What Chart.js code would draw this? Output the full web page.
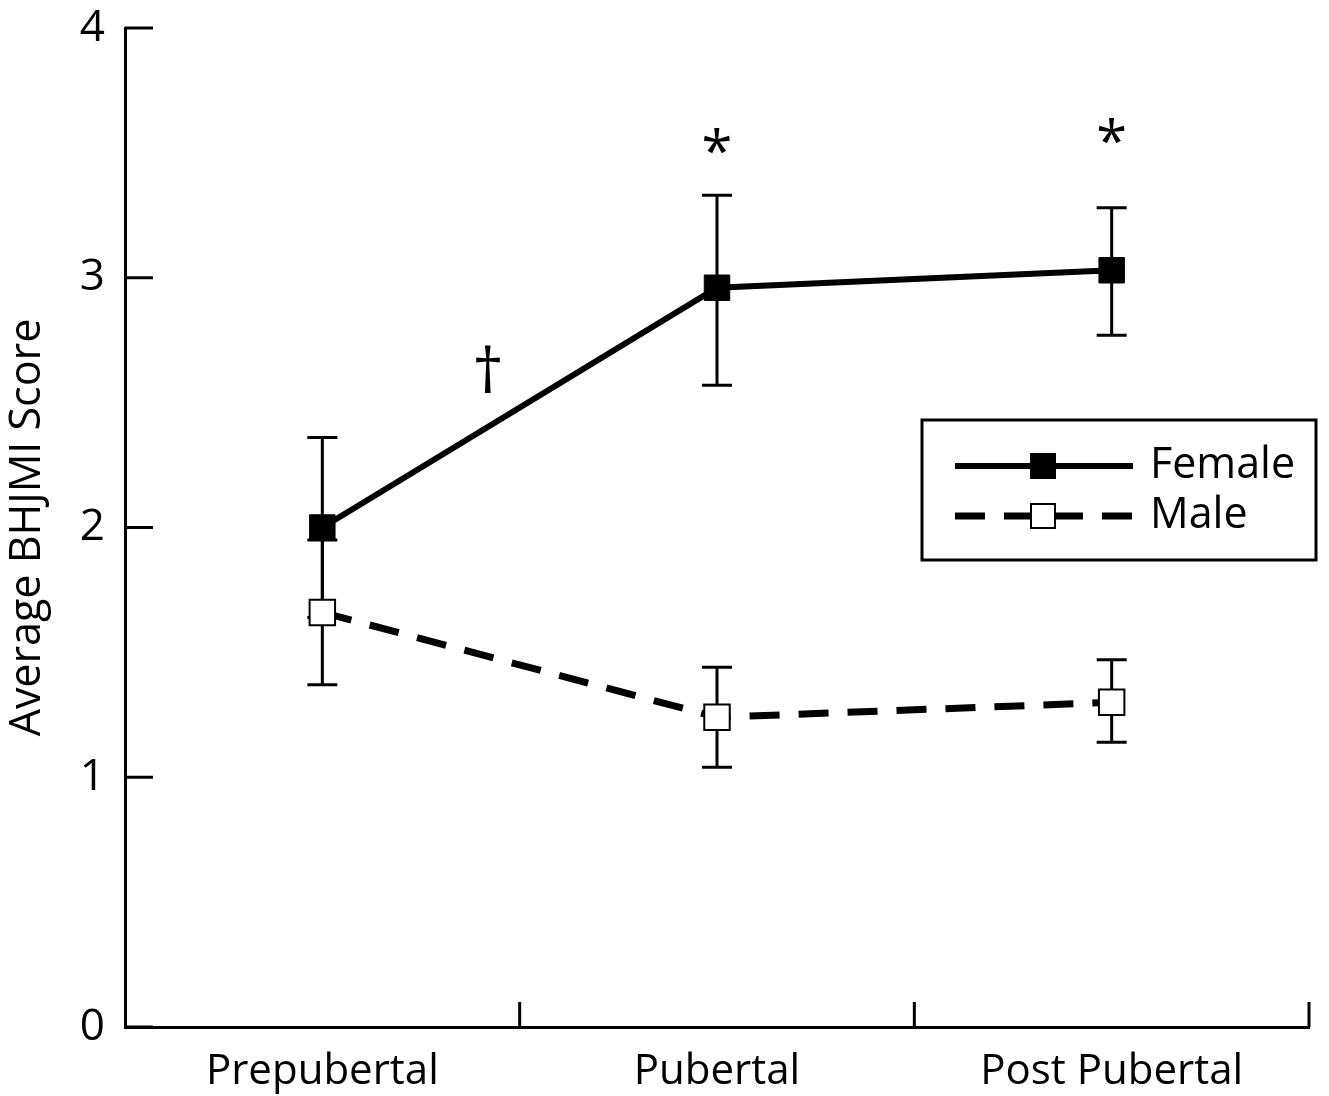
<!DOCTYPE html>
<html>
<head>
<meta charset="utf-8">
<script src="https://cdn.jsdelivr.net/npm/chart.js@4/dist/chart.umd.min.js"></script>
<style>
  html, body { margin: 0; padding: 0; background: #fff; }
  #wrap { width: 1329px; height: 1096px; }
</style>
</head>
<body>
<div id="wrap"><canvas id="chart" width="1329" height="1096"></canvas></div>
<script>
// data
const stages = ['Prepubertal', 'Pubertal', 'Post Pubertal'];
const femaleMean = [2.00, 2.96, 3.03];
const femaleLow = [1.64, 2.57, 2.77];
const femaleHigh = [2.36, 3.33, 3.28];
const maleMean = [1.66, 1.24, 1.30];
const maleLow = [1.37, 1.04, 1.14];
const maleHigh = [1.95, 1.44, 1.47];
const yTicks = [0, 1, 2, 3, 4];
// significance marks: [x position in category index, y value, symbol]
const marks = [[0.42, 2.61, '\u2020'], [1, 3.53, '*'], [2, 3.57, '*']];

const FONT = '"Open Sans", "DejaVu Sans", sans-serif';

// error bars, inward ticks, significance marks and legend box
const extras = {
    id: 'extras',
    beforeDatasetsDraw(chart) {
        const ctx = chart.ctx;
        const x = chart.scales.x, y = chart.scales.y;
        ctx.save();
        ctx.strokeStyle = '#000';
        ctx.lineWidth = 3;
        const bars = [[femaleLow, femaleHigh], [maleLow, maleHigh]];
        bars.forEach(([lo, hi]) => {
            lo.forEach((v, i) => {
                const px = x.getPixelForValue(i);
                const y1 = y.getPixelForValue(v), y2 = y.getPixelForValue(hi[i]);
                ctx.beginPath();
                ctx.moveTo(px, y1); ctx.lineTo(px, y2);
                ctx.moveTo(px - 15, y1); ctx.lineTo(px + 15, y1);
                ctx.moveTo(px - 15, y2); ctx.lineTo(px + 15, y2);
                ctx.stroke();
            });
        });
        ctx.restore();
    },
    afterDraw(chart) {
        const ctx = chart.ctx;
        const x = chart.scales.x, y = chart.scales.y;
        const area = chart.chartArea;
        ctx.save();
        ctx.strokeStyle = '#000';
        ctx.fillStyle = '#000';
        ctx.lineWidth = 3;
        // y ticks pointing into the plot
        yTicks.forEach(t => {
            const py = y.getPixelForValue(t);
            ctx.beginPath();
            ctx.moveTo(area.left, py); ctx.lineTo(area.left + 28, py);
            ctx.stroke();
        });
        // x ticks at category boundaries, pointing up
        for (let i = 0; i < stages.length; i++) {
            const px = i < stages.length - 1
                ? (x.getPixelForValue(i) + x.getPixelForValue(i + 1)) / 2
                : area.right;
            ctx.beginPath();
            ctx.moveTo(px, area.bottom); ctx.lineTo(px, area.bottom - 25);
            ctx.stroke();
        }
        // significance marks
        ctx.textAlign = 'center';
        ctx.textBaseline = 'middle';
        marks.forEach(([xi, v, s]) => {
            const i0 = Math.floor(xi);
            const p0 = x.getPixelForValue(i0);
            const p1 = i0 + 1 < stages.length ? x.getPixelForValue(i0 + 1) : p0;
            const px = p0 + (p1 - p0) * (xi - i0);
            ctx.font = (s === '*' ? '56px ' : '62px ') + FONT;
            ctx.fillText(s, px, y.getPixelForValue(v) + (s === '*' ? 10 : 0));
        });
        // legend box
        const bx = 922, by = 420, bw = 394, bh = 140;
        ctx.lineWidth = 3;
        ctx.strokeRect(bx, by, bw, bh);
        const rows = [
            { label: 'Female', dash: [], fill: '#000', y: by + 46 },
            { label: 'Male', dash: [30, 19], fill: '#fff', y: by + 96 }
        ];
        rows.forEach(r => {
            ctx.lineWidth = r.dash.length ? 7 : 6;
            ctx.setLineDash(r.dash);
            ctx.beginPath();
            ctx.moveTo(955, r.y); ctx.lineTo(1133, r.y);
            ctx.stroke();
            ctx.setLineDash([]);
            ctx.fillStyle = r.fill;
            ctx.fillRect(1031, r.y - 12, 24, 24);
            ctx.lineWidth = 2;
            ctx.strokeRect(1031, r.y - 12, 24, 24);
            ctx.fillStyle = '#000';
            ctx.font = '43px ' + FONT;
            ctx.textAlign = 'left';
            ctx.fillText(r.label, 1150, r.y);
        });
        ctx.restore();
    }
};

new Chart(document.getElementById('chart'), {
    type: 'line',
    data: {
        labels: stages,
        datasets: [{
            label: 'Female',
            data: femaleMean,
            borderColor: '#000',
            borderWidth: 6,
            pointStyle: 'rect',
            pointRadius: 18,
            pointBackgroundColor: '#000',
            pointBorderColor: '#000',
            pointBorderWidth: 1,
            tension: 0
        }, {
            label: 'Male',
            data: maleMean,
            borderColor: '#000',
            borderWidth: 7,
            borderDash: [30, 19],
            pointStyle: 'rect',
            pointRadius: 18,
            pointBackgroundColor: '#fff',
            pointBorderColor: '#000',
            pointBorderWidth: 2,
            tension: 0
        }]
    },
    options: {
        responsive: false,
        animation: false,
        layout: { padding: { top: 28, right: 11, left: 0, bottom: 0 } },
        plugins: {
            legend: { display: false },
            tooltip: { enabled: false }
        },
        scales: {
            x: {
                type: 'category',
                offset: true,
                grid: { display: false, drawTicks: false },
                border: { display: true, color: '#000', width: 3 },
                ticks: {
                    color: '#000',
                    font: { family: FONT, size: 42 },
                    padding: 20,
                    maxRotation: 0
                },
                afterFit(scale) { scale.height = 69; scale.paddingLeft = 0; scale.paddingRight = 0; }
            },
            y: {
                min: 0,
                max: 4,
                grid: { display: false, drawTicks: false },
                border: { display: true, color: '#000', width: 3 },
                ticks: {
                    stepSize: 1,
                    color: '#000',
                    font: { family: FONT, size: 44 },
                    padding: 20
                },
                title: {
                    display: true,
                    text: 'Average BHJMI Score',
                    color: '#000',
                    font: { family: FONT, size: 43 },
                    padding: { top: 2, bottom: 0 }
                },
                afterFit(scale) { scale.width = 125; scale.paddingTop = 0; scale.paddingBottom = 0; }
            }
        }
    },
    plugins: [extras]
});
</script>
</body>
</html>
